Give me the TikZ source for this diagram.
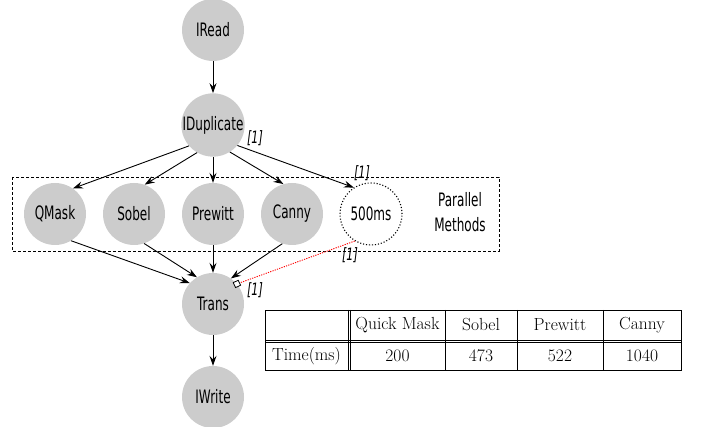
\documentclass[tikz,border=0pt]{standalone}
\usepackage{fontspec}
\usepackage{tikz}
\usetikzlibrary{arrows.meta,positioning}
\newfontfamily\nodefont{DejaVu Sans}[FakeStretch=0.65]

\begin{document}
\begin{tikzpicture}[x=1pt,y=-1pt,>={Stealth[length=10pt,width=7pt,inset=3.5pt]},node distance=79pt,
    task/.style={circle,fill=black!20,minimum size=62pt,inner sep=0pt,font=\nodefont\fontsize{18.5}{20}\selectfont},
    delay/.style={task,fill=white,draw,line width=1.1pt,dash pattern=on 1.1pt off 1.9pt},
    port/.style={font=\nodefont\itshape\fontsize{17}{19}\selectfont,inner sep=0pt},
    portsq/.style={draw,fill=white,rectangle,minimum size=5.5pt,inner sep=0pt,line width=0.8pt,rotate=25},
    cell/.style={font=\fontsize{17.5}{19}\selectfont,inner sep=0pt},
    tabline/.style={line width=0.8pt}]
    \useasboundingbox (0,0) rectangle (701,427);

    \node[task] (iread) at (213,30) {IRead};
    \node[task] (idup) [below of=iread,node distance=95pt] {IDuplicate};
    \node[task] (prewitt) [below of=idup,node distance=89pt] {Prewitt};
    \node[task] (sobel) [left of=prewitt] {Sobel};
    \node[task] (qmask) [left of=sobel] {QMask};
    \node[task] (canny) [right of=prewitt] {Canny};
    \node[delay] (wait) [right of=canny] {500ms};
    \node[task] (trans) [below of=prewitt,node distance=90pt] {Trans};
    \node[task] (iwrite) [below of=trans,node distance=93pt] {IWrite};

    % parallel group
    \draw[line width=0.8pt,dash pattern=on 3pt off 2pt] (12,177) rectangle (499,251);
    \node[font=\nodefont\fontsize{18.5}{25}\selectfont,align=center] (par) at (460,212) {Parallel\\Methods};

    \path[->,line width=0.9pt]
    (iread) edge (idup)
    (idup.221) edge (qmask.55)
    (idup.240) edge (sobel.70)
    (idup) edge (prewitt)
    (idup.302) edge (canny.106)
    (idup.320) edge (wait.123)

    (qmask.301) edge (trans.138)
    (sobel.289) edge (trans.121)
    (prewitt) edge (trans)
    (canny.252) edge (trans.55)

    (trans) edge (iwrite)
    ;

    \node[portsq] (sq) at (trans.40) {};
    \draw[red,line width=0.9pt,dash pattern=on 1.2pt off 1.2pt] (wait.239) -- (sq);

    \node[port] (p1) at (255,138) {[1]};
    \node[port] (p2) at (362,173) {[1]};
    \node[port] (p3) at (350,255) {[1]};
    \node[port] (p4) at (255,290) {[1]};

    % timing table
    \draw[tabline] (265,310) rectangle (681,370);
    \draw[tabline] (265,340) -- (681,340) (265,342.5) -- (681,342.5);
    \draw[tabline] (348,310) -- (348,370) (350.5,310) -- (350.5,370);
    \foreach \x in {445,517,603}
      \draw[tabline] (\x,310) -- (\x,370);
    \foreach \x/\t [count=\i] in {397.5/Quick Mask,481/Sobel,560/Prewitt,642/Canny}
      \node[cell] (head\i) at (\x,325) {\t};
    \node[cell] (rowt) at (306.5,356) {Time(ms)};
    \foreach \x/\t [count=\i] in {397.5/200,481/473,560/522,642/1040}
      \node[cell] (val\i) at (\x,356) {\t};
\end{tikzpicture}
\end{document}
